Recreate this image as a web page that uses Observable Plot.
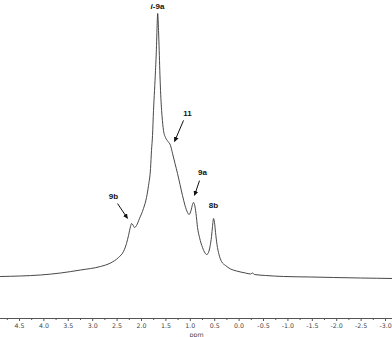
<!DOCTYPE html>
<html><head><meta charset="utf-8">
<script src="https://cdn.jsdelivr.net/npm/d3@7"></script>
<script src="https://cdn.jsdelivr.net/npm/@observablehq/plot@0.6"></script>
<style>body{margin:0;background:#fff} svg{display:block}</style>
</head><body><div id="chart"></div>
<script>
// Spectrum trace (chemical shift in ppm, relative intensity)
const ppm = [4.889,4.479,4.069,3.659,3.250,2.840,2.635,2.471,2.369,2.307,2.266,2.225,2.205,2.174,2.143,2.102,2.041,1.959,1.897,1.856,1.815,1.795,1.774,1.754,1.733,1.713,1.692,1.682,1.668,1.651,1.637,1.625,1.610,1.580,1.549,1.508,1.457,1.405,1.364,1.313,1.262,1.211,1.160,1.108,1.057,1.026,0.985,0.955,0.934,0.914,0.883,0.852,0.811,0.750,0.698,0.668,0.637,0.596,0.565,0.545,0.524,0.504,0.483,0.453,0.412,0.360,0.278,0.176,0.053,-0.131,-0.234,-0.275,-0.316,-0.541,-0.910,-1.464,-1.935,-2.488,-3.143];
const intensity = [0.38,0.57,0.95,1.70,2.84,4.17,5.49,7.58,9.85,12.88,15.91,19.32,20.45,19.89,18.94,19.70,22.35,26.14,30.30,34.85,41.29,48.11,53.79,63.26,70.83,78.41,87.88,94.32,100,93.56,85.98,78.41,70.83,61.36,55.68,53.03,51.52,50.00,46.97,43.18,39.39,35.23,31.06,27.27,24.62,23.86,25.38,27.65,28.41,27.65,24.24,18.94,15.15,11.36,9.28,8.71,9.09,11.74,15.53,19.32,22.35,20.83,17.05,12.50,8.71,6.06,4.55,3.22,2.46,1.70,1.33,1.70,1.14,0.76,0.38,0.19,0,-0.19,-0.38];

// Axis ticks
const tickValues = [4.5,4.0,3.5,3.0,2.5,2.0,1.5,1.0,0.5,0.0,-0.5,-1.0,-1.5,-2.0,-2.5,-3.0];
const minorTicks = [4.75,4.25,3.75,3.25,2.75,2.25,1.75,1.25,0.75,0.25,-0.25,-0.75,-1.25,-1.75,-2.25,-2.75];

// Peak annotations
const labelText = ["i-9a","11","9a","8b","9b"];
const labelPpm = [1.672,1.057,0.750,0.524,2.573];
const labelInt = [102.6,62.1,39.8,27.3,30.7];

// Annotation arrows
const arrowPpm1 = [1.139,0.811,2.491];
const arrowInt1 = [59.5,36.7,28.0];
const arrowPpm2 = [1.323,0.914,2.287];
const arrowInt2 = [51.5,31.1,22.4];

const spectrum = ppm.map((p,i)=>({ppm:p, v:intensity[i]}));
const labels = labelText.map((t,i)=>({t, x:labelPpm[i], y:labelInt[i]}));
const arrows = arrowPpm1.map((p,i)=>({x1:p, y1:arrowInt1[i], x2:arrowPpm2[i], y2:arrowInt2[i]}));

const yMin = -15.53, yMax = 104.92;

const plot = Plot.plot({
  width: 392, height: 337,
  marginLeft: 0, marginRight: 0, marginTop: 0, marginBottom: 19,
  style: {background: "#fff", fontFamily: "DejaVu Sans", color: "#444"},
  x: {domain: [4.889, -3.143]},
  y: {domain: [yMin, yMax], axis: null},
  marks: [
    Plot.ruleY([yMin], {stroke: "#555", strokeWidth: 1}),
    Plot.ruleX(minorTicks, {x: d=>d, y1: yMin, y2: yMin - 2/2.64, stroke: "#555"}),
    Plot.axisX({ticks: tickValues, tickFormat: d => d.toFixed(1), tickSize: 3, tickPadding: 2,
      fontSize: 6.3, fill: "#444", stroke: "#555", label: "ppm", labelAnchor: "center", labelArrow: "none", labelOffset: 18}),
    Plot.line(spectrum, {x: "ppm", y: "v", stroke: "#333", strokeWidth: 0.9, curve: "monotone-x"}),
    Plot.link(arrows, {x1: "x1", y1: "y1", x2: "x2", y2: "y2", stroke: "#111", strokeWidth: 1, className: "ann-arrow"}),
    Plot.text(labels, {x: "x", y: "y", text: "t", fontSize: 8, fontWeight: "bold", fontFamily: "Liberation Sans", fill: "#111", className: "ann-text"})
  ]
});
document.getElementById("chart").appendChild(plot);

const svg = d3.select(plot);
svg.selectAll("text").filter(function(){ return d3.select(this).text() === "ppm"; }).attr("fill", "#444");
svg.append("defs").append("marker")
  .attr("id","ah").attr("viewBox","0 0 10 10").attr("refX",9).attr("refY",5)
  .attr("markerWidth",5).attr("markerHeight",5).attr("markerUnits","userSpaceOnUse").attr("orient","auto")
  .append("path").attr("d","M0,0L10,5L0,10z").attr("fill","#111");
svg.selectAll(".ann-arrow path").attr("marker-end","url(#ah)");
svg.selectAll(".ann-text text").each(function(){
  const el = d3.select(this);
  if (el.text() === "i-9a") {
    el.text("");
    el.append("tspan").attr("font-style","italic").text("i");
    el.append("tspan").text("-9a");
  }
});
</script></body></html>
